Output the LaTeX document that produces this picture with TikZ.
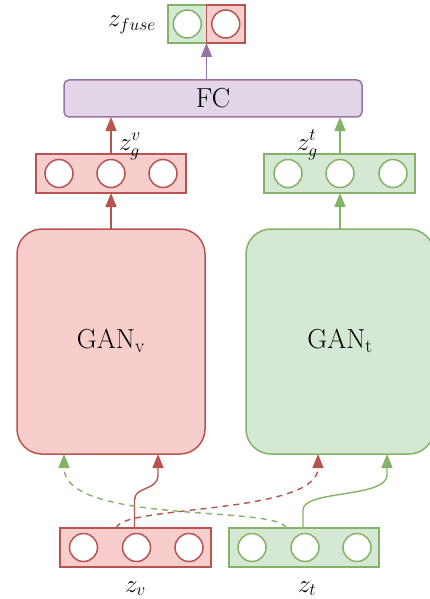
\RequirePackage{fix-cm}
\documentclass[tikz,border=0pt]{standalone}
\usetikzlibrary{arrows.meta,calc}
\definecolor{rfill}{HTML}{F8CECC}
\definecolor{rdraw}{HTML}{B85450}
\definecolor{gfill}{HTML}{D5E8D4}
\definecolor{gdraw}{HTML}{82B366}
\definecolor{pfill}{HTML}{E1D5E7}
\definecolor{pdraw}{HTML}{9673A6}
\begin{document}
\begin{tikzpicture}[x=1pt,y=-1pt,
  every node/.style={inner sep=0pt,outer sep=0pt},
  vecbox/.style={draw,line width=1.5pt,rectangle},
  rbox/.style={vecbox,fill=rfill,draw=rdraw},
  gbox/.style={vecbox,fill=gfill,draw=gdraw},
  cell/.style={circle,draw,line width=1.5pt,fill=white,minimum size=28pt},
  rcell/.style={cell,draw=rdraw},
  gcell/.style={cell,draw=gdraw},
  gan/.style={draw,line width=1.5pt,rounded corners=25pt,minimum width=188pt,minimum height=225pt},
  bigtxt/.style={font=\fontsize{27.5}{32}\selectfont},
  lbl/.style={font=\fontsize{25}{30}\selectfont},
  conn/.style={line width=1.4pt,-{Triangle[length=14pt,width=11pt]}},
  rconn/.style={conn,draw=rdraw},
  gconn/.style={conn,draw=gdraw},
  pconn/.style={conn,draw=pdraw},
  dsh/.style={dash pattern=on 6pt off 5pt}]
\useasboundingbox (0,0) rectangle (429,599);

% z_fuse
\node[gbox,minimum width=38.5pt,minimum height=38pt] (fuseg) at (187.25,24) {};
\node[rbox,minimum width=38.5pt,minimum height=38pt] (fuser) at (225.75,24) {};
\node[gcell] (fc1) at (fuseg.center) {};
\node[rcell] (fc2) at (fuser.center) {};
\node[lbl,anchor=base west] (fuselbl) at (108,27) {$z_{fuse}$};

% FC
\node[draw=pdraw,fill=pfill,line width=1.5pt,rounded corners=5pt,minimum width=298pt,minimum height=37pt] (fc) at (213,98.5) {};
\node[bigtxt,anchor=base] (fctxt) at (213,107) {FC};

% z_g^v
\node[rbox,minimum width=150pt,minimum height=39pt] (zgv) at (111,173.5) {};
\node[rcell] (zgv1) at ([xshift=-52pt]zgv.center) {};
\node[rcell] (zgv2) at (zgv.center) {};
\node[rcell] (zgv3) at ([xshift=52pt]zgv.center) {};
% z_g^t
\node[gbox,minimum width=151pt,minimum height=39pt] (zgt) at (339.5,173.5) {};
\node[gcell] (zgt1) at ([xshift=-51.5pt]zgt.center) {};
\node[gcell] (zgt2) at ([xshift=0.5pt]zgt.center) {};
\node[gcell] (zgt3) at ([xshift=53.5pt]zgt.center) {};

\node[lbl,anchor=base west] (zgvl) at (119,150) {$z_g^v$};
\node[lbl,anchor=base west] (zgtl) at (297,150) {$z_g^t$};

% GANs
\node[gan,fill=rfill,draw=rdraw] (ganv) at (111,341.5) {};
\node[gan,fill=gfill,draw=gdraw] (gant) at (340,341.5) {};
\node[bigtxt,anchor=base] (ganvt) at (111,348) {$\mathrm{GAN_v}$};
\node[bigtxt,anchor=base] (gantt) at (340,348) {$\mathrm{GAN_t}$};

% z_v, z_t
\node[rbox,minimum width=151pt,minimum height=39pt] (zv) at (135.5,547.5) {};
\node[rcell] (zv1) at ([xshift=-52pt]zv.center) {};
\node[rcell] (zv2) at ([xshift=1pt]zv.center) {};
\node[rcell] (zv3) at ([xshift=53.5pt]zv.center) {};
\node[gbox,minimum width=150pt,minimum height=39pt] (zt) at (304,547.5) {};
\node[gcell] (zt1) at ([xshift=-52pt]zt.center) {};
\node[gcell] (zt2) at ([xshift=1pt]zt.center) {};
\node[gcell] (zt3) at ([xshift=53pt]zt.center) {};
\node[lbl,anchor=base west] (zvl) at (125,592) {$z_v$};
\node[lbl,anchor=base west] (ztl) at (298,592) {$z_t$};

% connectors top part
\draw[pconn] (fc.north -| fuseg.east) -- (fuseg.south east);
\draw[rconn] (zgv.north -| zgv2.center) -- (fc.south -| zgv2.center);
\draw[gconn] (zgt.north -| zgt2.center) -- (fc.south -| zgt2.center);
\draw[rconn] (ganv.north -| zgv2.center) -- (zgv.south -| zgv2.center);
\draw[gconn] (gant.north -| zgt2.center) -- (zgt.south -| zgt2.center);

% bottom connectors
\coordinate (rs0) at ([xshift=-2pt]zv2.center |- zv.north);
\coordinate (rs1) at ([xshift=-47pt]ganv.south east);
\draw[rconn] (rs0) -- ++(0,-28) .. controls ++(0,-14) and ($(rs1)+(0,37)$) .. ($(rs1)+(0,21)$) -- (rs1);

\coordinate (rd0) at ([xshift=-20pt]zv2.center |- zv.north);
\coordinate (rd1) at ([xshift=13pt]zt2.center |- gant.south);
\draw[rconn,dsh] (rd0) .. controls ++(3,-23) and ($(rd1)+(0,61)$) .. (rd1);

\coordinate (gd0) at ([xshift=-19pt]zt2.center |- zt.north);
\coordinate (gd1) at ([xshift=47pt]ganv.south west);
\draw[gconn,dsh] (gd0) .. controls ++(-6,-23) and ($(gd1)+(0,71)$) .. (gd1);

\coordinate (gs0) at ([xshift=-2pt]zt2.center |- zt.north);
\coordinate (gs1) at ([xshift=82pt]zt2.center |- gant.south);
\draw[gconn] (gs0) -- ++(0,-18) .. controls ++(0,-20) and ($(gs1)+(0,44)$) .. ($(gs1)+(0,21)$) -- (gs1);
\end{tikzpicture}
\end{document}
